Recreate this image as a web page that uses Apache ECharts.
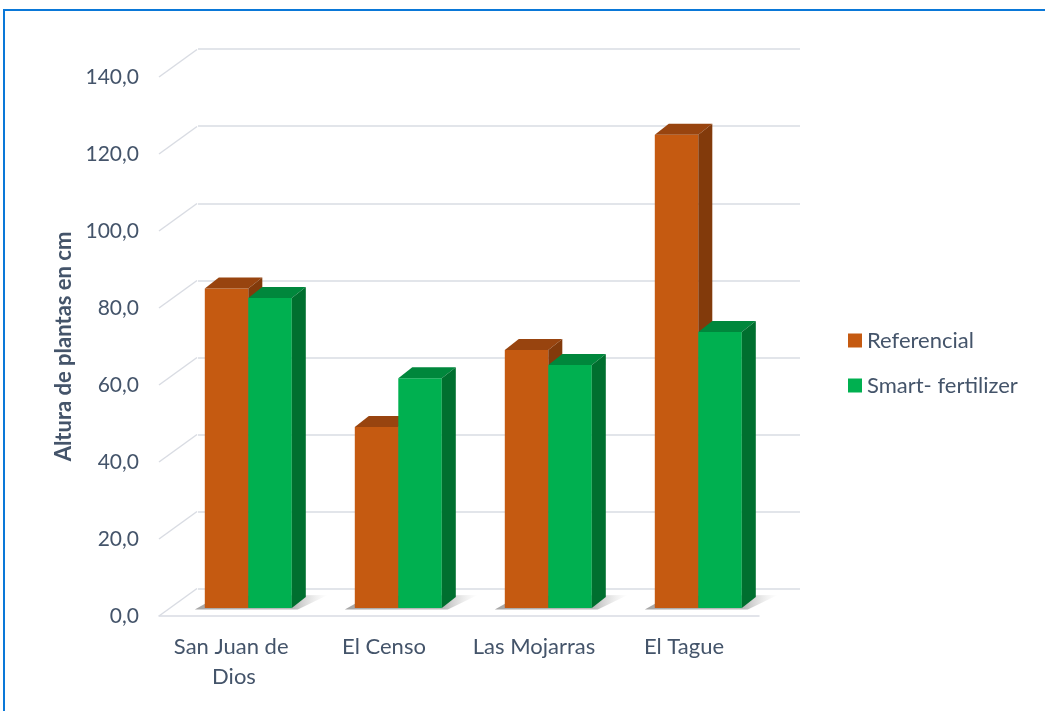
<!DOCTYPE html>
<html>
<head>
<meta charset="utf-8">
<script src="https://cdn.jsdelivr.net/npm/echarts@6/dist/echarts.min.js"></script>
<style>
html,body{margin:0;padding:0;background:#fff;}
#chart{width:1045px;height:711px;}
</style>
</head>
<body>
<div id="chart"></div>
<script>
// ---- data ----
const categories = ['San Juan de Dios', 'El Censo', 'Las Mojarras', 'El Tague'];
const referencial = [83.0, 47.0, 67.0, 122.9];
const smartFertilizer = [80.5, 59.7, 63.1, 71.7];
const seriesNames = ['Referencial', 'Smart- fertilizer'];
const yMin = 0, yMax = 140, yStep = 20;
const gridTicks = [0, 20, 40, 60, 80, 100, 120, 140];
const yAxisTitle = 'Altura de plantas en cm';

// ---- style ----
const FONT = 'Lato';
const TEXT = '#44546A';
const GRID_COLOR = '#D9DCE3';
const FACE = [
  {front: '#C55A11', top: '#98440F', side: '#823A0B'},
  {front: '#00B050', top: '#00873C', side: '#006F2F'}
];
const DEPTH = {dx: 38, dy: -27.5};      // front plane -> back wall
const FACE_OFF = {dx: 14.3, dy: -8};     // front plane -> bar front face
const BAR_D = {dx: 14, dy: -11};          // bar depth
const BAR_FRAC = 0.29;                    // bar width / category band

const chart = echarts.init(document.getElementById('chart'), null, {renderer: 'canvas'});

function fmt(v) { return v.toFixed(1).replace('.', ','); }

function barRender(si) {
  return function (params, api) {
    const idx = api.value(0);
    const val = api.value(1);
    const c0 = api.coord([idx, 0]);
    const c1 = api.coord([idx, val]);
    const band = api.size([1, 0])[0];
    const w = band * BAR_FRAC;
    const x0 = c0[0] + FACE_OFF.dx - w + si * w;
    const yb = c0[1] + FACE_OFF.dy;
    const yt = c1[1] + FACE_OFF.dy;
    const ch = [];
    if (si === 0) {
      const xL = x0, xR = x0 + 2 * w;
      ch.push({
        type: 'polygon',
        shape: {points: [[xL - 10, yb + 1.5], [xR + 6, yb + 1.5], [xR + BAR_D.dx + 22, yb + BAR_D.dy - 2], [xL + BAR_D.dx, yb + BAR_D.dy - 1]]},
        style: {
          fill: new echarts.graphic.LinearGradient(0, 0, 1, 0, [
            {offset: 0, color: 'rgba(110,110,110,0.6)'},
            {offset: 0.75, color: 'rgba(120,120,120,0.5)'},
            {offset: 1, color: 'rgba(200,200,200,0)'}
          ])
        }
      });
    }
    ch.push({type: 'rect', shape: {x: x0, y: yt, width: w, height: yb - yt}, style: {fill: FACE[si].front}});
    ch.push({
      type: 'polygon',
      shape: {points: [[x0, yt], [x0 + w, yt], [x0 + w + BAR_D.dx, yt + BAR_D.dy], [x0 + BAR_D.dx, yt + BAR_D.dy]]},
      style: {fill: FACE[si].top}
    });
    ch.push({
      type: 'polygon',
      shape: {points: [[x0 + w, yt], [x0 + w + BAR_D.dx, yt + BAR_D.dy], [x0 + w + BAR_D.dx, yb + BAR_D.dy], [x0 + w, yb]]},
      style: {fill: FACE[si].side}
    });
    return {type: 'group', children: ch};
  };
}

function diagRender(params, api) {
  const v = api.value(0);
  const cs = params.coordSys;
  const y = api.coord([0, v])[1];
  return {
    type: 'line',
    shape: {x1: cs.x, y1: y, x2: cs.x + DEPTH.dx, y2: y + DEPTH.dy},
    style: {stroke: GRID_COLOR, lineWidth: 1.5}
  };
}

const front = {left: 159, top: 77, right: 286, bottom: 95};
const back = {left: 198, top: 49, right: 245, bottom: 122};

const option = {
  backgroundColor: '#ffffff',
  animation: false,
  textStyle: {fontFamily: FONT},
  graphic: [{
    type: 'rect',
    shape: {x: 4, y: 10, width: 1200, height: 900},
    style: {fill: null, stroke: '#0A78D8', lineWidth: 2},
    silent: true,
    z: 100
  }],
  grid: [
    {left: front.left, top: front.top, right: front.right, bottom: front.bottom, containLabel: false},
    {left: back.left, top: back.top, right: back.right, bottom: back.bottom, containLabel: false}
  ],
  legend: {
    orient: 'vertical',
    left: 843,
    top: 324,
    itemWidth: 14,
    itemHeight: 14,
    itemGap: 22,
    icon: 'rect',
    data: seriesNames,
    textStyle: {fontFamily: FONT, fontSize: 22, color: TEXT, lineHeight: 23}
  },
  xAxis: [
    {
      type: 'category', gridIndex: 0, data: categories,
      axisLine: {show: true, lineStyle: {color: GRID_COLOR, width: 1.5}},
      axisTick: {show: false},
      axisLabel: {
        interval: 0, fontFamily: FONT, fontSize: 22, color: TEXT, margin: 16,
        lineHeight: 30, width: 140, overflow: 'break'
      },
      splitLine: {show: false}
    },
    {
      type: 'category', gridIndex: 1, data: categories,
      axisLine: {show: false}, axisTick: {show: false}, axisLabel: {show: false}, splitLine: {show: false}
    }
  ],
  yAxis: [
    {
      type: 'value', gridIndex: 0, min: yMin, max: yMax, interval: yStep,
      name: yAxisTitle, nameLocation: 'middle', nameGap: 80, nameRotate: 90,
      nameTextStyle: {fontFamily: FONT, fontSize: 22, fontWeight: 'bold', color: TEXT},
      axisLine: {show: false}, axisTick: {show: false},
      axisLabel: {fontFamily: FONT, fontSize: 21, color: TEXT, margin: 20, formatter: fmt},
      splitLine: {show: false}
    },
    {
      type: 'value', gridIndex: 1, min: yMin, max: yMax, interval: yStep,
      axisLine: {show: false}, axisTick: {show: false}, axisLabel: {show: false},
      splitLine: {show: true, lineStyle: {color: GRID_COLOR, width: 1.5}}
    }
  ],
  series: [
    {
      type: 'custom', name: 'diag', xAxisIndex: 0, yAxisIndex: 0,
      data: gridTicks.map(v => [v]), renderItem: diagRender, silent: true, z: 1,
      encode: {y: 0}
    },
    {
      type: 'custom', name: seriesNames[0], xAxisIndex: 0, yAxisIndex: 0,
      itemStyle: {color: FACE[0].front},
      data: referencial.map((v, i) => [i, v]), renderItem: barRender(0), z: 5,
      encode: {x: 0, y: 1}
    },
    {
      type: 'custom', name: seriesNames[1], xAxisIndex: 0, yAxisIndex: 0,
      itemStyle: {color: FACE[1].front},
      data: smartFertilizer.map((v, i) => [i, v]), renderItem: barRender(1), z: 6,
      encode: {x: 0, y: 1}
    }
  ]
};
chart.setOption(option);
</script>
</body>
</html>
